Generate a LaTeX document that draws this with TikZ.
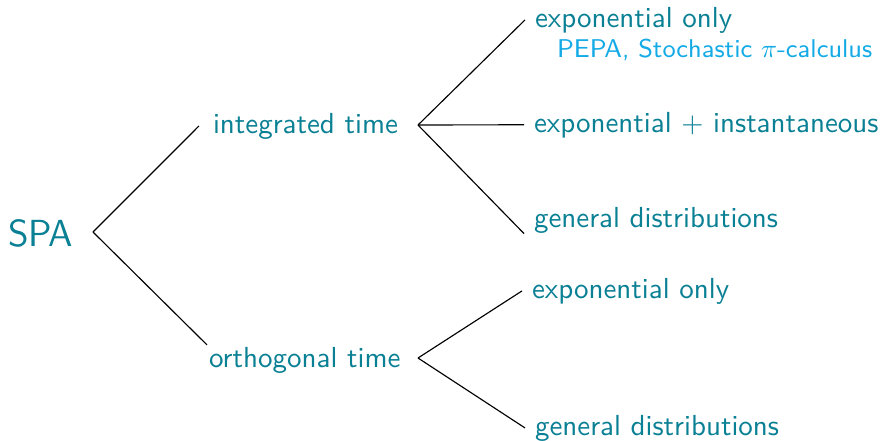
\documentclass[tikz,border=0pt]{standalone}
\usepackage{tikz}
\usetikzlibrary{positioning}
\definecolor{spateal}{RGB}{10,128,148}
\definecolor{spasky}{RGB}{20,170,230}
\tikzset{
  basic/.style   = {inner sep=0pt, anchor=text, text=spateal,
                    font=\sffamily\fontsize{10.15pt}{12pt}\selectfont},
  root/.style    = {basic, font=\sffamily\fontsize{13.2pt}{16pt}\selectfont},
  level 2/.style = {basic, outer xsep=4.9pt},
  level 3/.style = {basic, outer xsep=3.5pt},
  note/.style    = {basic, text=spasky, font=\sffamily\small}
}
\begin{document}
\begin{tikzpicture}[x=0.35pt, y=-0.35pt, line width=0.4pt]
  \useasboundingbox (0,0) rectangle (882,440);

  % root of the tree
  \node[root] (spa) at (8,246) {SPA};
  \coordinate (spafork) at (93,232);

  % the two kinds of time
  \node[level 2] (it) at (213,133) {integrated time};
  \node[level 2, outer sep=0.7pt] (ot) at (209,367) {orthogonal time};
  \coordinate (itfork) at (418,125);
  \coordinate (otfork) at (418,358);

  % the leaves, integrated time
  \node[level 3] (ie) at (535,27) {exponential only};
  \node[note] (pepa) at (557,57) {PEPA, Stochastic $\pi$-calculus};
  \node[level 3] (ii) at (534,132) {exponential $+$ instantaneous};
  \node[level 3] (ig) at (534,227) {general distributions};

  % the leaves, orthogonal time
  \node[level 3] (oe) at (532,298) {exponential only};
  \node[level 3] (og) at (535,435) {general distributions};

  % lines from each fork to its children
  \draw (spafork) -- (it.west);
  \draw (spafork) -- (ot.north west);

  \foreach \child in {ie.west,ii.west,ig.south west}
    \draw (itfork) -- (\child);

  \foreach \child in {oe.west,og.west}
    \draw (otfork) -- (\child);
\end{tikzpicture}
\end{document}
